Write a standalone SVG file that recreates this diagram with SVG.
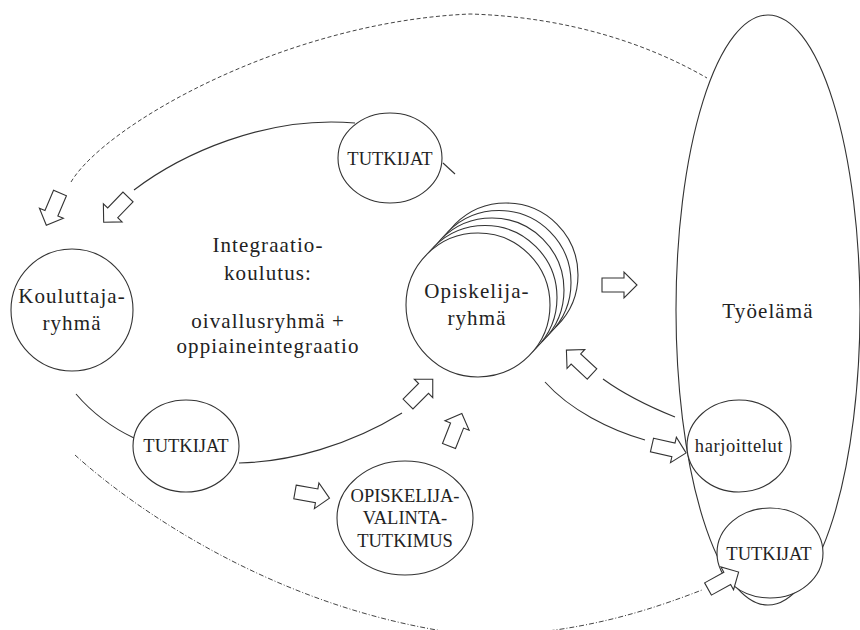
<svg xmlns="http://www.w3.org/2000/svg" xmlns:xlink="http://www.w3.org/1999/xlink" width="860" height="630" viewBox="0 0 860 630">
  <style>
    .node { fill: #fff; stroke: #333; stroke-width: 1.1; }
    .line { fill: none; stroke: #333; stroke-width: 1.1; }
    .dash { fill: none; stroke: #444; stroke-width: 1; stroke-dasharray: 4 2.5; }
    .dashdot { fill: none; stroke: #444; stroke-width: 1; stroke-dasharray: 5 2 1 2; }
    .blk { fill: #fff; stroke: #333; stroke-width: 1.1; stroke-linejoin: miter; }
    text { font-family: "Liberation Serif", "Times New Roman", serif; fill: #222; text-anchor: middle; }
    .big { font-size: 21px; letter-spacing: 1.1px; }
    .small { font-size: 18.5px; }
  </style>
  <defs>
    <!-- hollow block arrow, tail centre at origin, pointing along +x -->
    <polygon id="blk" class="blk" points="0,-7 22,-7 22,-13 35,0 22,13 22,7 0,7"/>
  </defs>

  <!-- working life: large ellipse on the right -->
  <g id="tyoelama">
    <ellipse class="node" cx="768" cy="310" rx="92" ry="295"/>
    <text class="big" x="768" y="318">Työelämä</text>
  </g>

  <g id="connectors">
    <!-- outer dashed arc over the top -->
    <path class="dash" d="M71,182 C105,125 285,22 470,14 C570,17 650,45 707,78"/>
    <!-- outer dash-dot arc along the bottom -->
    <path class="dashdot" d="M75,455 C130,505 280,615 480,636 C580,634 650,610 702,590"/>
    <!-- arc from upper researchers back to trainers -->
    <path class="line" d="M134,190 C180,155 265,115 355,123"/>
    <path class="line" d="M443,163 L455,174"/>
    <!-- trainers to researchers to student group -->
    <path class="line" d="M76,394 Q100,422 134,438"/>
    <path class="line" d="M239,463 C290,462 350,445 402,413"/>
    <!-- student group and practice -->
    <path class="line" d="M603,379 C625,395 650,407 675,417"/>
    <path class="line" d="M545,382 C570,410 610,430 645,440"/>

    <use xlink:href="#blk" transform="translate(602,285)"/>
    <use xlink:href="#blk" transform="translate(60,193) rotate(113)"/>
    <use xlink:href="#blk" transform="translate(128,197) rotate(134)"/>
    <use xlink:href="#blk" transform="translate(408,404) rotate(-45)"/>
    <use xlink:href="#blk" transform="translate(449,446) rotate(-68.5)"/>
    <use xlink:href="#blk" transform="translate(295,492) rotate(10)"/>
    <use xlink:href="#blk" transform="translate(592,374) rotate(-137)"/>
    <use xlink:href="#blk" transform="translate(652,445) rotate(13)"/>
  </g>

  <g id="tutkijat-top">
    <ellipse class="node" cx="390" cy="158" rx="52" ry="45"/>
    <text class="small" x="390" y="165">TUTKIJAT</text>
  </g>

  <g id="kouluttajaryhma">
    <circle class="node" cx="72" cy="310" r="61"/>
    <text class="big" x="72" y="303">Kouluttaja-</text>
    <text class="big" x="72" y="330">ryhmä</text>
  </g>

  <g id="integraatiokoulutus">
    <text class="big" x="268" y="252">Integraatio-</text>
    <text class="big" x="268" y="280">koulutus:</text>
    <text class="big" x="268" y="328">oivallusryhmä +</text>
    <text class="big" x="268" y="353">oppiaineintegraatio</text>
  </g>

  <g id="opiskelijaryhma">
    <circle class="node" cx="506" cy="275" r="72"/>
    <circle class="node" cx="499" cy="282.5" r="72"/>
    <circle class="node" cx="492" cy="290" r="72"/>
    <circle class="node" cx="485" cy="297.5" r="72"/>
    <circle class="node" cx="478" cy="305" r="72"/>
    <text class="big" x="477" y="298">Opiskelija-</text>
    <text class="big" x="477" y="325">ryhmä</text>
  </g>

  <g id="tutkijat-mid">
    <ellipse class="node" cx="186" cy="446" rx="53" ry="46"/>
    <text class="small" x="186" y="452">TUTKIJAT</text>
  </g>

  <g id="valintatutkimus">
    <ellipse class="node" cx="405" cy="518" rx="68" ry="57"/>
    <text class="small" x="405" y="502">OPISKELIJA-</text>
    <text class="small" x="405" y="524">VALINTA-</text>
    <text class="small" x="405" y="547">TUTKIMUS</text>
  </g>

  <g id="harjoittelut">
    <ellipse class="node" cx="739" cy="446" rx="52" ry="46"/>
    <text class="small" x="739" y="452" style="letter-spacing:0.6px">harjoittelut</text>
  </g>

  <g id="tutkijat-work">
    <ellipse class="node" cx="770" cy="553" rx="53" ry="45"/>
    <text class="small" x="769" y="560">TUTKIJAT</text>
  </g>

  <g id="connectors-front">
    <use xlink:href="#blk" transform="translate(708,589) rotate(-29)"/>
  </g>
</svg>
